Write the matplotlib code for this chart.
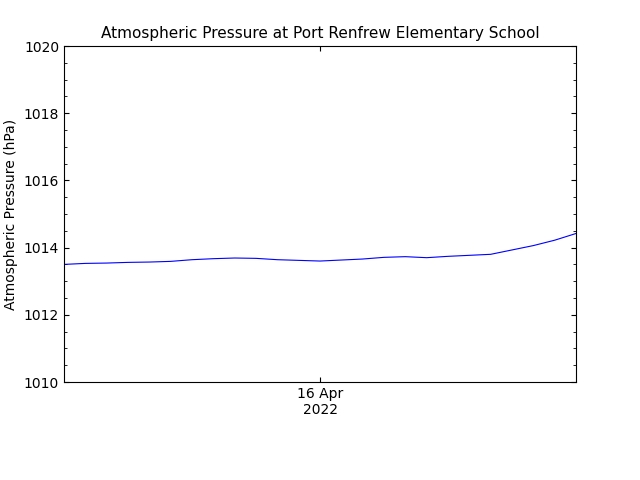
import matplotlib
matplotlib.use("Agg")
import matplotlib.pyplot as plt
from matplotlib.ticker import MultipleLocator

hours = [0,1,2,3,4,5,6,7,8,9,10,11,12,13,14,15,16,17,18,19,20,21,22,23,24]
pressure = [1013.50,1013.53,1013.54,1013.56,1013.57,1013.59,1013.64,1013.67,1013.69,1013.68,
            1013.64,1013.62,1013.60,1013.63,1013.66,1013.71,1013.73,1013.70,1013.74,1013.77,
            1013.80,1013.93,1014.06,1014.22,1014.42]
tick_pos = [12]
tick_labels = ["16 Apr\n2022"]

fig = plt.figure(figsize=(6.4,4.8), dpi=100)
ax = fig.add_axes([64/640, 1-382/480, 512/640, 336/480])
ax.plot(hours, pressure, color='blue', lw=0.8)
ax.set_xlim(0, 24)
ax.set_ylim(1010, 1020)
ax.yaxis.set_major_locator(MultipleLocator(2))
ax.yaxis.set_minor_locator(MultipleLocator(0.5))
ax.set_xticks(tick_pos)
ax.set_xticklabels(tick_labels, fontsize=10)
ax.tick_params(axis='y', which='both', right=True, direction='in', labelsize=10)
ax.tick_params(axis='x', direction='in', top=True)
ax.set_ylabel("Atmospheric Pressure (hPa)", fontsize=10)
ax.set_title("Atmospheric Pressure at Port Renfrew Elementary School", fontsize=11)
fig.savefig("out.png", dpi=100)
